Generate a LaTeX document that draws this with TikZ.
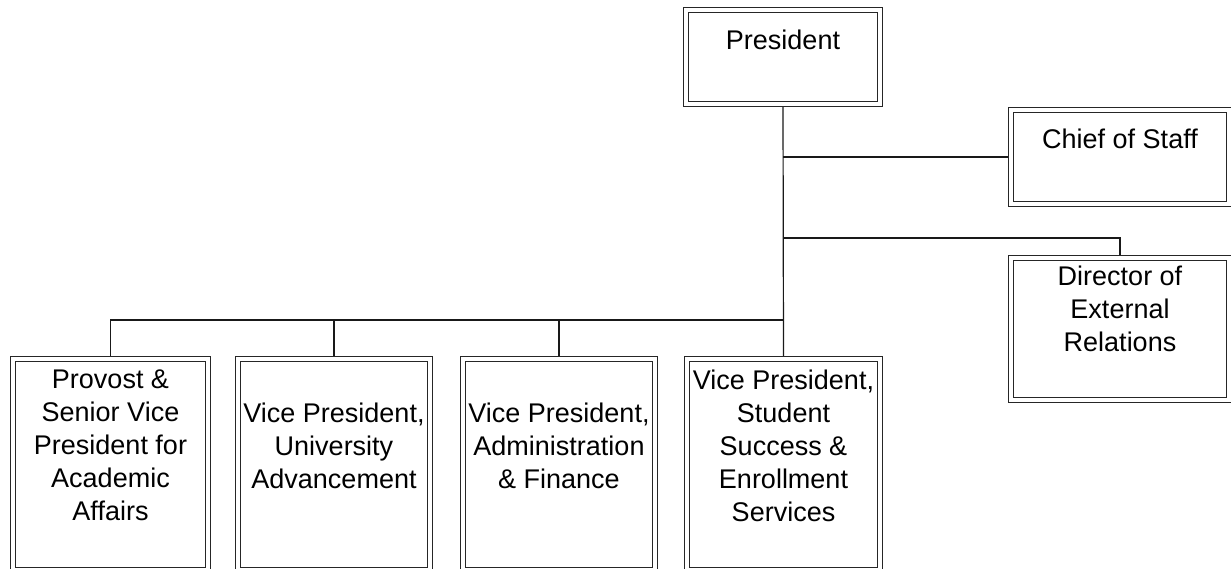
\documentclass[tikz,border=0pt]{standalone}
\usepackage{fontspec}
\setmainfont{Liberation Sans}
\usetikzlibrary{backgrounds}
\begin{document}
\begin{tikzpicture}[x=1pt,y=-1pt,
  box/.style={draw=black!85, double=white, double distance=3.6pt, line width=1.1pt,
    fill=white, inner sep=0pt, rectangle},
  txt/.style={font=\fontsize{27}{33}\selectfont, align=center, inner sep=0pt, anchor=north, text=black},
  conn/.style={draw=black!90, line width=1.2pt}]
\useasboundingbox (0,0) rectangle (1231,569);
% boxes
\node[box, minimum width=194pt, minimum height=94pt] (pres) at (783,57) {};
\node[box, minimum width=218pt, minimum height=94pt] (cos) at (1120,157) {};
\node[box, minimum width=218pt, minimum height=142pt] (dir) at (1120,329) {};
\node[box, minimum width=195pt, minimum height=210.5pt] (vp1) at (110.5,464.25) {};
\node[box, minimum width=192pt, minimum height=210.5pt] (vp2) at (334,464.25) {};
\node[box, minimum width=192pt, minimum height=210.5pt] (vp3) at (559,464.25) {};
\node[box, minimum width=193pt, minimum height=210.5pt] (vp4) at (783.5,464.25) {};
% texts
\node[txt] (presT) at (783,29.5) {President};
\node[txt] (cosT) at (1120,128.5) {Chief of Staff};
\node[txt] (dirT) at (1120,265.5) {Director of\\External\\Relations};
\node[txt] (vp1T) at (110.5,369.5) {Provost \&\\Senior Vice\\President for\\Academic\\Affairs};
\node[txt] (vp2T) at (334,402.5) {Vice President,\\University\\Advancement};
\node[txt] (vp3T) at (559,402.5) {Vice President,\\Administration\\\& Finance};
\node[txt] (vp4T) at (783.5,369.5) {Vice President,\\Student\\Success \&\\Enrollment\\Services};
% connectors
\coordinate (j1) at (pres.south |- cos.west);
\coordinate (j2) at ([yshift=-81pt]j1);
\coordinate (j3) at ([yshift=-163pt]j1);
\begin{pgfonlayer}{background}
\draw[conn] (pres.south) -- (vp4.north);
\draw[conn] (j1) -- (cos.west);
\draw[conn] (j2) -| (dir.north);
\draw[conn] (j3) -| (vp1.north);
\draw[conn] (vp2.north) -- (vp2.north |- j3);
\draw[conn] (vp3.north) -- (vp3.north |- j3);
\end{pgfonlayer}
\end{tikzpicture}
\end{document}
